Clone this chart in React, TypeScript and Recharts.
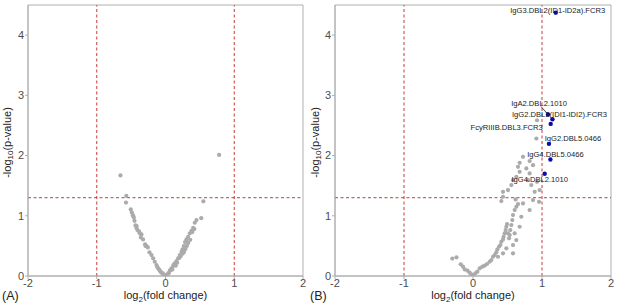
import { ScatterChart, Scatter, XAxis, YAxis, ReferenceLine, ReferenceArea } from "recharts";

const xTicks = [-2, -1, 0, 1, 2];
const yTicks = [0, 1, 2, 3, 4];
const foldCuts = [-1, 1];
const pCut = 1.3;

// panel A: all features, grey
const aFc = [
  0.78, -0.655, -0.57, -0.575, 0.55, 0.52,
  -0.505, -0.49, -0.476, -0.461, -0.451, -0.437, -0.422, -0.408, -0.374, -0.349, -0.359, -0.326, -0.297,
  -0.276, -0.257, -0.233, -0.204, -0.18, -0.156, -0.131, -0.107, -0.083, -0.058, -0.034, -0.01,
  0.015, 0.038, 0.063, 0.087, 0.111, 0.135, 0.16, 0.184, 0.208, 0.233, 0.247, 0.266, 0.285, 0.305,
  0.329, 0.353, 0.378, 0.402, 0.426, 0.451,
  0.12, 0.17, 0.2, 0.22, 0.25, 0.27, 0.29, 0.31, 0.33, 0.36, 0.05, 0.08, 0.1, 0.15, 0.02, 0.39, 0.42,
  -0.02, -0.045, -0.07, -0.095, -0.12, -0.385, -0.47, -0.42, -0.29,
];
const aP = [
  2.01, 1.67, 1.33, 1.22, 1.24, 0.96,
  1.106, 1.056, 1.01, 0.973, 0.917, 0.84, 0.796, 0.763, 0.708, 0.69, 0.64, 0.607, 0.525,
  0.497, 0.475, 0.393, 0.348, 0.293, 0.237, 0.182, 0.127, 0.088, 0.055, 0.033, 0.011,
  0.011, 0.044, 0.088, 0.127, 0.166, 0.21, 0.249, 0.293, 0.348, 0.403, 0.442, 0.497, 0.564, 0.607,
  0.652, 0.708, 0.751, 0.801, 0.884, 0.929,
  0.19, 0.22, 0.3, 0.33, 0.37, 0.4, 0.45, 0.5, 0.55, 0.6, 0.05, 0.1, 0.11, 0.17, 0.02, 0.73, 0.78,
  0.02, 0.05, 0.07, 0.11, 0.15, 0.74, 1.0, 0.83, 0.5,
];

// panel B: grey features
const bFc = [
  -0.3, -0.24, -0.178, -0.145, -0.12, -0.08, -0.048, -0.024, 0, 0.034, 0.063, 0.097, 0.135, 0.169,
  0.203, 0.241, 0.266, 0.29, 0.314, 0.338, 0.353, 0.377, 0.396, 0.411, 0.435, 0.444, 0.459, 0.473,
  0.483, 0.493, 0.507, 0.522, 0.532, 0.541, 0.556, 0.57, 0.58, 0.604, 0.628, 0.652, 0.618, 0.411,
  0.435, 0.435, 0.507, 0.556, 0.58, 0.628, 0.676, 0.652, 0.676, 0.725, 0.773, 0.821, 0.797, 0.845,
  0.87, 0.894, 0.821, 0.725, 0.7, 0.676, 0.604, 0.628, 0.58, 0.483, 0.435, 0.58, 0.362, 0.918,
  0.928, 0.957, 0.966, 0.87, 0.928, 0.821,
];
const bP = [
  0.29, 0.31, 0.194, 0.155, 0.11, 0.088, 0.055, 0.028, 0.011, 0.044, 0.072, 0.127, 0.155, 0.171,
  0.199, 0.237, 0.265, 0.32, 0.348, 0.393, 0.442, 0.486, 0.514, 0.569, 0.607, 0.652, 0.708, 0.763,
  0.818, 0.862, 0.708, 0.625, 0.68, 0.763, 0.846, 0.929, 1.012, 1.095, 1.15, 1.194, 1.271, 1.244,
  1.316, 1.398, 1.426, 1.509, 1.592, 1.647, 1.73, 1.813, 1.879, 1.979, 1.786, 1.703, 1.592, 1.509,
  1.26, 1.398, 1.095, 1.205, 0.984, 0.818, 0.708, 0.597, 0.514, 0.459, 0.376, 0.376, 0.32, 2.283,
  2.586, 1.232, 1.426, 1.84, 1.564, 1.908,
];

// panel B: significant features, blue and labelled
const hitNames = [
  "IgG3.DBL2(ID1-ID2a).FCR3",
  "IgA2.DBL2.1010",
  "IgG2.DBL3(IDI1-IDI2).FCR3",
  "FcyRIIIB.DBL3.FCR3",
  "IgG2.DBL5.0466",
  "IgG4.DBL5.0466",
  "IgG4.DBL2.1010",
];
const hitFc = [1.199, 1.087, 1.151, 1.126, 1.101, 1.122, 1.039];
const hitP = [4.373, 2.682, 2.604, 2.526, 2.194, 1.935, 1.697];

// label placement (pixels from the dot), like ggrepel put them
const labelShift = [[2, -2], [-9, -11], [7, -5], [-44, 4], [24, -5], [5, -5], [-5, 6]];

const FONT = "'Liberation Sans', Arial, sans-serif";
const GREY_AXIS = "#b0b0b0";
const CUT_RED = "#c83a3a";

const toPoints = (xs: number[], ys: number[]) => xs.map((x, i) => ({ x, y: ys[i] }));
const aPoints = toPoints(aFc, aP);
const bPoints = toPoints(bFc, bP);
const hitPoints = hitFc.map((x, i) => ({ x, y: hitP[i], name: hitNames[i] }));

const GreyDot = (p: any) => <circle cx={p.cx} cy={p.cy} r={2.1} fill="#ababab" />;

const HitDot = (p: any) => {
  const [dx, dy] = labelShift[p.index] || [0, 0];
  return (
    <g>
      {p.index === 1 && (
        <line x1={p.cx - 7} y1={p.cy - 8} x2={p.cx} y2={p.cy} stroke="#222" strokeWidth={0.8} />
      )}
      <text
        x={p.cx + dx}
        y={p.cy + dy}
        textAnchor="middle"
        dominantBaseline="central"
        fontSize={7.6}
        fontFamily={FONT}
        fill="#1a1a1a"
      >
        {p.payload.name}
      </text>
      <circle cx={p.cx} cy={p.cy} r={2.2} fill="#0a0aa8" />
    </g>
  );
};

function Panel({ tag, points, hits, width, axisW, right }: any) {
  const yLabel = ({ viewBox }: any) => {
    const cx = viewBox.x + 7;
    const cy = viewBox.y + viewBox.height / 2 + 2;
    return (
      <text
        x={cx}
        y={cy}
        transform={`rotate(-90 ${cx} ${cy})`}
        textAnchor="middle"
        dominantBaseline="central"
        fontSize={11}
        fontFamily={FONT}
        fill="#222"
      >
        -log<tspan dy={3} fontSize={8}>10</tspan><tspan dy={-3}>(p-value)</tspan>
      </text>
    );
  };
  const xLabel = ({ viewBox }: any) => (
    <g fontFamily={FONT}>
      <text x={viewBox.x + viewBox.width / 2} y={viewBox.y + 23} textAnchor="middle" fontSize={11} fill="#222">
        log<tspan dy={3} fontSize={8}>2</tspan><tspan dy={-3}>(fold change)</tspan>
      </text>
      <text x={viewBox.x - axisW + 2} y={viewBox.y + 24} fontSize={12.5} fill="#222">
        {tag}
      </text>
    </g>
  );
  return (
    <ScatterChart width={width} height={308} margin={{ top: 5, right, bottom: 0, left: 0 }}>
      <XAxis
        type="number"
        dataKey="x"
        domain={[-2, 2]}
        ticks={xTicks}
        allowDataOverflow
        tickSize={3}
        tickLine={{ stroke: GREY_AXIS }}
        axisLine={{ stroke: GREY_AXIS }}
        tick={{ fontSize: 11, fill: "#4d4d4d", fontFamily: FONT, dy: -2 }}
        height={32}
        label={xLabel}
      />
      <YAxis
        type="number"
        dataKey="y"
        domain={[0, 4.5]}
        ticks={yTicks}
        allowDataOverflow
        tickSize={3}
        tickLine={{ stroke: GREY_AXIS }}
        axisLine={{ stroke: GREY_AXIS }}
        tick={{ fontSize: 11, fill: "#4d4d4d", fontFamily: FONT, dx: 1 }}
        width={axisW}
        label={yLabel}
      />
      <ReferenceArea x1={-2} x2={2} y1={0} y2={4.5} fill="none" stroke={GREY_AXIS} strokeWidth={1} ifOverflow="visible" />
      {foldCuts.map((c) => (
        <ReferenceLine key={c} x={c} stroke={CUT_RED} strokeDasharray="3 2.5" strokeWidth={1} />
      ))}
      <ReferenceLine y={pCut} stroke={CUT_RED} strokeDasharray="3 2.5" strokeWidth={1} />
      <Scatter data={points} shape={GreyDot} isAnimationActive={false} />
      {hits && <Scatter data={hits} shape={HitDot} isAnimationActive={false} />}
    </ScatterChart>
  );
}

export default function App() {
  return (
    <div style={{ position: "absolute", left: 0, top: 0, width: 617, height: 308, background: "#fff" }}>
      <div style={{ position: "absolute", left: 0, top: 0 }}>
        <Panel tag="(A)" points={aPoints} width={308} axisW={28} right={5} />
      </div>
      <div style={{ position: "absolute", left: 308, top: 0 }}>
        <Panel tag="(B)" points={bPoints} hits={hitPoints} width={309} axisW={27} right={6} />
      </div>
    </div>
  );
}
